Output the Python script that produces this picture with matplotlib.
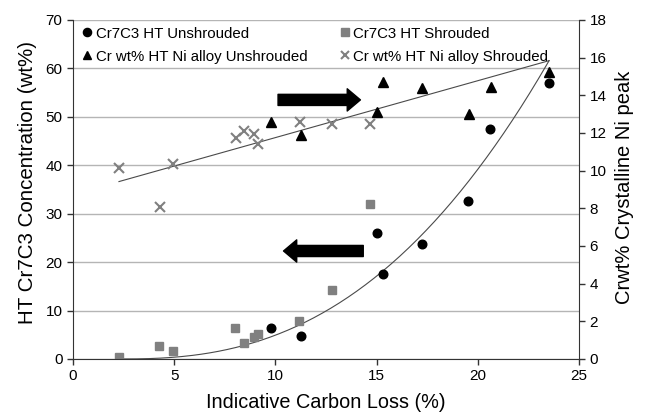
import numpy as np
import matplotlib
matplotlib.use('Agg')
import matplotlib.pyplot as plt
from matplotlib.patches import FancyArrowPatch

plt.rcParams['font.family'] = ['Liberation Sans', 'DejaVu Sans']

# Cr7C3 HT Unshrouded (left axis)
unsh_x = [9.77, 11.25, 15.03, 15.30, 17.23, 19.53, 20.62, 23.52]
unsh_y = [6.4, 4.7, 26.0, 17.6, 23.7, 32.6, 47.4, 56.9]
# Cr7C3 HT Shrouded (left axis)
sh_x = [2.26, 4.27, 4.96, 8.02, 8.45, 8.94, 9.14, 11.18, 12.78, 14.67]
sh_y = [0.5, 2.7, 1.65, 6.4, 3.4, 4.5, 5.2, 7.9, 14.2, 31.9]
# Cr wt% HT Ni alloy Unshrouded (right axis)
ni_unsh_x = [9.78, 11.28, 15.04, 15.32, 17.26, 19.55, 20.64, 23.52]
ni_unsh_y = [12.6, 11.9, 13.13, 14.73, 14.37, 13.0, 14.43, 15.23]
# Cr wt% HT Ni alloy Shrouded (right axis)
ni_sh_x = [2.27, 4.30, 4.96, 8.04, 8.47, 8.96, 9.14, 11.20, 12.78, 14.67]
ni_sh_y = [10.13, 8.06, 10.34, 11.72, 12.11, 11.95, 11.42, 12.57, 12.46, 12.46]

# guide lines
lin_guide_x = [2.27, 23.52]     # right axis
lin_guide_y = [9.42, 15.84]
curve_start_x = 2.27            # left axis, power-law guide
curve_end_x = 23.52
curve_end_y = 61.6
curve_power = 2.5

fig = plt.figure(figsize=(6.45, 4.13), dpi=100)
ax = fig.add_axes([0.1132, 0.1308, 0.7845, 0.8208])
ax2 = ax.twinx()

ax.set_xlim(0, 25)
ax.set_ylim(0, 70)
ax2.set_ylim(0, 18)
ax.set_xticks(range(0, 26, 5))
ax.set_yticks(range(0, 71, 10))
ax2.set_yticks(range(0, 19, 2))
ax.yaxis.grid(True, color='#b5b5b5', lw=1)
ax.set_axisbelow(True)

for a in (ax, ax2):
    a.spines['top'].set_visible(False)
    for s in ('left', 'right', 'bottom'):
        a.spines[s].set_color('#333333')
    a.tick_params(direction='out', length=4, width=1, color='#333333', labelsize=11)
ax.spines['right'].set_visible(False)
ax2.spines['left'].set_visible(False)
ax2.spines['bottom'].set_visible(False)

# guide lines
xs = np.linspace(curve_start_x, curve_end_x, 200)
ys = curve_end_y * ((xs - curve_start_x) / (curve_end_x - curve_start_x)) ** curve_power
ax.plot(xs, ys, color='#4a4a4a', lw=0.8)
ax2.plot(lin_guide_x, lin_guide_y, color='#4a4a4a', lw=0.8)

h1, = ax.plot(unsh_x, unsh_y, 'o', color='black', ms=6.2, label='Cr7C3 HT Unshrouded')
h2, = ax.plot(sh_x, sh_y, 's', color='#808080', ms=6, label='Cr7C3 HT Shrouded')
h3, = ax2.plot(ni_unsh_x, ni_unsh_y, '^', color='black', ms=6.5, label='Cr wt% HT Ni alloy Unshrouded')
h4, = ax2.plot(ni_sh_x, ni_sh_y, 'x', color='#808080', ms=6.5, mew=1.5, label='Cr wt% HT Ni alloy Shrouded')

handles = [h1, h3, h2, h4]
ax.legend(handles, [h.get_label() for h in handles], ncol=2, loc='upper left',
          frameon=False, fontsize=10.8, handletextpad=0.05, columnspacing=2.0, markerscale=0.95,
          handlelength=1.0, borderaxespad=0.05, labelspacing=0.6)

arrow_style = 'simple,head_length=9.5,head_width=16,tail_width=8'
ax.add_patch(FancyArrowPatch((10.13, 53.5), (14.2, 53.5), arrowstyle=arrow_style,
                             mutation_scale=1, color='black', shrinkA=0, shrinkB=0))
ax.add_patch(FancyArrowPatch((14.34, 22.3), (10.4, 22.3), arrowstyle=arrow_style,
                             mutation_scale=1, color='black', shrinkA=0, shrinkB=0))

ax.set_xlabel('Indicative Carbon Loss (%)', fontsize=14.3, labelpad=7)
ax.set_ylabel('HT Cr7C3 Concentration (wt%)', fontsize=14.8)
ax2.set_ylabel('Crwt% Crystalline Ni peak', fontsize=14.5)
ax.yaxis.set_label_coords(-0.071, 0.521)
ax2.yaxis.set_label_coords(1.071, 0.507)

fig.savefig('out.png', dpi=100)
